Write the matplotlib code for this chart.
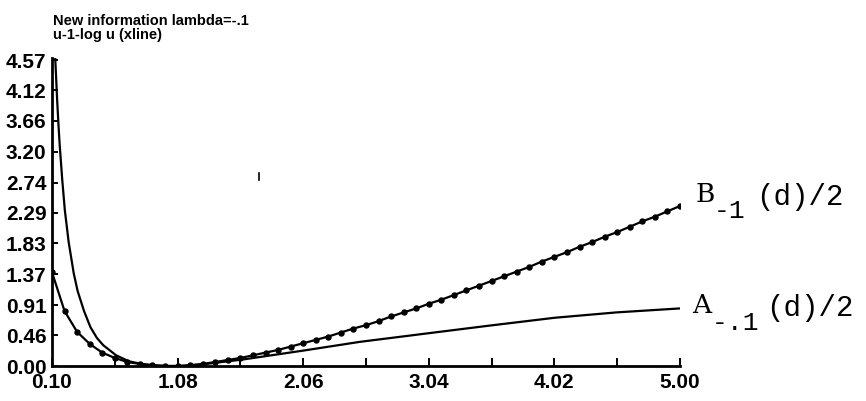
import matplotlib
matplotlib.use("Agg")
import matplotlib.pyplot as plt
from matplotlib.lines import Line2D

W, H = 866, 401

# ---- data ----
u_vals = [0.100, 0.198, 0.296, 0.394, 0.492, 0.590, 0.688, 0.786, 0.884, 0.982,
          1.080, 1.178, 1.276, 1.374, 1.472, 1.570, 1.668, 1.766, 1.864, 1.962,
          2.060, 2.158, 2.256, 2.354, 2.452, 2.550, 2.648, 2.746, 2.844, 2.942,
          3.040, 3.138, 3.236, 3.334, 3.432, 3.530, 3.628, 3.726, 3.824, 3.922,
          4.020, 4.118, 4.216, 4.314, 4.412, 4.510, 4.608, 4.706, 4.804, 4.902,
          5.000]
xline_vals = [1.40, 0.82, 0.51, 0.33, 0.20, 0.12, 0.06, 0.03, 0.01, 0.00,
              0.00, 0.01, 0.03, 0.06, 0.09, 0.12, 0.16, 0.20, 0.24, 0.29,
              0.34, 0.39, 0.44, 0.50, 0.56, 0.61, 0.67, 0.74, 0.80, 0.86,
              0.93, 0.99, 1.06, 1.13, 1.20, 1.27, 1.34, 1.41, 1.48, 1.56,
              1.63, 1.70, 1.78, 1.85, 1.93, 2.00, 2.08, 2.16, 2.23, 2.31,
              2.39]
b_vals = list(xline_vals)

a_u = [0.12, 0.13, 0.14, 0.15, 0.16, 0.18, 0.20, 0.23, 0.27, 0.30, 0.35, 0.40,
       0.45, 0.50, 0.60, 0.70, 0.80, 0.90, 1.00, 1.10, 1.30, 1.60, 2.06, 2.50,
       3.04, 3.50, 4.02, 4.50, 5.00]
a_vals = [4.80, 4.40, 3.98, 3.62, 3.30, 2.78, 2.33, 1.85, 1.38, 1.12, 0.82, 0.58,
          0.42, 0.31, 0.16, 0.07, 0.03, 0.01, 0.00, 0.00, 0.03, 0.10, 0.23, 0.36,
          0.49, 0.60, 0.72, 0.80, 0.86]

x_major = [0.10, 1.08, 2.06, 3.04, 4.02, 5.00]
x_minor = [0.59, 1.57, 2.55, 3.53, 4.51]
y_ticks = [0.00, 0.46, 0.91, 1.37, 1.83, 2.29, 2.74, 3.20, 3.66, 4.12, 4.57]

title1 = "New information lambda=-.1"
title2 = "u-1-log u (xline)"

# ---- figure ----
fig = plt.figure(figsize=(W / 100, H / 100), dpi=100)
fig.patch.set_facecolor("white")

def fx(px):
    return px / W

def fy(py):
    return 1 - py / H

left, right, top, bottom = 52, 680, 58, 366
ax = fig.add_axes([fx(left), fy(bottom), (right - left) / W, (bottom - top) / H])
ax.set_xlim(0.10, 5.00)
ax.set_ylim(0.0, 4.60)

ax.plot(a_u, a_vals, color="black", lw=1.6, solid_joinstyle="round")
ax.plot(u_vals, b_vals, color="black", lw=1.6)
ax.plot(u_vals, xline_vals, linestyle="none", marker="o", markersize=3.6,
        color="black")

for s in ["top", "right"]:
    ax.spines[s].set_visible(False)
for s in ["left", "bottom"]:
    ax.spines[s].set_linewidth(2.0)

tick_font = dict(family=["Liberation Sans", "DejaVu Sans"], weight="bold", size=15)
ax.set_xticks(x_major)
ax.set_xticklabels([f"{v:.2f}" for v in x_major], fontdict=tick_font)
ax.set_xticks(x_minor, minor=True)
ax.set_yticks(y_ticks)
ax.set_yticklabels([f"{v:.2f}" for v in y_ticks], fontdict=tick_font)
ax.tick_params(axis="x", which="both", direction="in", length=6, width=1.4, pad=5)
ax.tick_params(axis="y", which="both", direction="in", length=4, width=1.4, pad=4)

# titles
tfont = dict(family=["Liberation Sans", "DejaVu Sans"], weight="bold", size=10.5)
fig.text(fx(53), fy(25), title1, ha="left", va="baseline", **tfont)
fig.text(fx(53), fy(39), title2, ha="left", va="baseline", **tfont)

# right labels
serif = dict(family=["DejaVu Serif"], size=19)
mono = dict(family=["Liberation Mono", "DejaVu Sans Mono"], size=21)
submono = dict(family=["Liberation Mono", "DejaVu Sans Mono"], size=19)
fig.text(fx(696), fy(202), "B", ha="left", va="baseline", **serif)
fig.text(fx(714), fy(218), "-1", ha="left", va="baseline", **submono)
fig.text(fx(756), fy(205), "(d)/2", ha="left", va="baseline", **mono)

fig.text(fx(692), fy(313), "A", ha="left", va="baseline", **serif)
fig.text(fx(712), fy(330), "-.1", ha="left", va="baseline", **submono)
fig.text(fx(766), fy(316), "(d)/2", ha="left", va="baseline", **mono)

# small stray mark in the scan
fig.add_artist(Line2D([fx(259), fx(259)], [fy(173), fy(180)], color="black", lw=1.2))

fig.savefig("out.png", dpi=100, facecolor="white")
